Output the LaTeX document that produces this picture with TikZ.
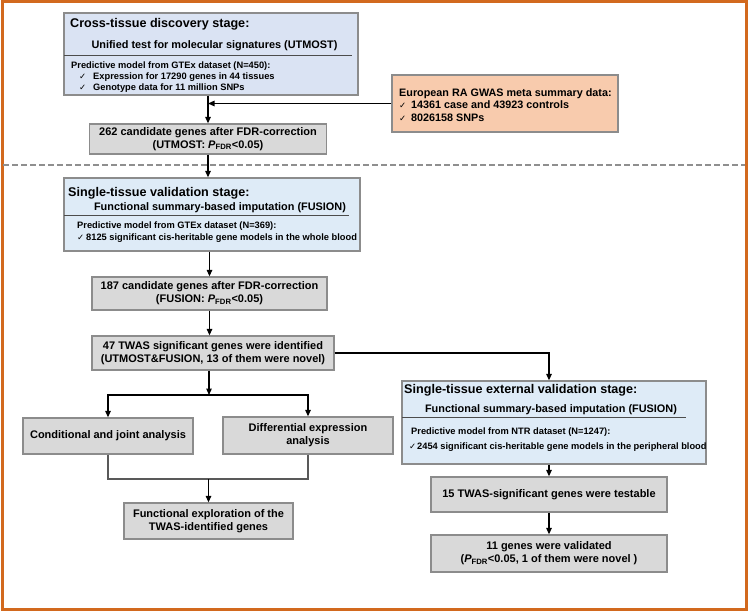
\documentclass[tikz,border=0pt]{standalone}
\usepackage{fontspec}
\setmainfont{Liberation Sans}
\newfontfamily\dvfont{DejaVu Sans}
\usetikzlibrary{arrows.meta}
\definecolor{frameor}{HTML}{D2691E}
\definecolor{bordgray}{HTML}{8C8C8C}
\definecolor{fillgray}{HTML}{D9D9D9}
\definecolor{fillblue}{HTML}{DEEBF7}
\definecolor{fillblueA}{HTML}{DAE3F3}
\definecolor{fillpeach}{HTML}{F8CBAD}
\definecolor{dashgray}{HTML}{8F8F8F}
\newcommand{\ck}{{\dvfont\mdseries\fontsize{8.5}{9}\selectfont ✓}}
\newcommand{\pfdr}{\textit{P}\textsubscript{FDR}}
\tikzset{
  box/.style={draw=bordgray, line width=1.3pt, inner sep=0pt, align=center,
    font=\bfseries\fontsize{11}{13}\selectfont},
  gbox/.style={box, fill=fillgray},
  arr/.style={-{Triangle[length=6.5pt,width=5.5pt]}, line width=1.2pt, black},
  ln/.style={line width=1.2pt, black!65},
  ttl/.style={anchor=west, inner sep=0pt, font=\bfseries\fontsize{12.6}{14}\selectfont},
  subt/.style={inner sep=0pt, font=\bfseries\fontsize{10.9}{13}\selectfont},
  smalltxt/.style={anchor=west, inner sep=0pt, font=\bfseries\fontsize{9.3}{11}\selectfont},
  sepline/.style={line width=0.8pt, black!70}
}
\begin{document}
\begin{tikzpicture}[x=1pt,y=-1pt]
\useasboundingbox (0,0) rectangle (749,611);
% frame
\draw[frameor, line width=2.5pt] (2.5,1.5) rectangle (746.5,609.5);
% dashed divider
\draw[dashgray, line width=1.6pt, dash pattern=on 6pt off 3pt] (3,165) -- (745,165);

% Box 1
\node[box, fill=fillblueA, minimum width=294, minimum height=82] (b1) at (211,54) {};
\node[ttl] (b1t) at (70,24) {Cross-tissue discovery stage:};
\node[subt] (b1s) at (214.5,46) {Unified test for molecular signatures (UTMOST)};
\draw[sepline] (64,55) -- (352,55);
\node[smalltxt] (b1p) at (71,66) {Predictive model from GTEx dataset (N=450):};
\node[smalltxt] (b1c1) at (79,77) {\makebox[14pt][l]{\ck}Expression for 17290 genes in 44 tissues};
\node[smalltxt] (b1c2) at (79,88) {\makebox[14pt][l]{\ck}Genotype data for 11 million SNPs};

% GWAS box
\node[box, fill=fillpeach, minimum width=226, minimum height=57] (ga) at (505,103.5) {};
\node[anchor=west, inner sep=0pt, align=left, font=\bfseries\fontsize{10.8}{12.2}\selectfont] (gat) at (399,105)
  {European RA GWAS meta summary data:\\\makebox[12pt][l]{\ck}14361 case and 43923 controls\\\makebox[12pt][l]{\ck}8026158 SNPs};

% 262
\node[gbox, minimum width=237, minimum height=30] (g262) at (208,139)
  {262 candidate genes after FDR-correction\\(UTMOST: \pfdr{}<0.05)};

% Box 2
\node[box, fill=fillblue, minimum width=296, minimum height=73] (b2) at (212,214.5) {};
\node[ttl] (b2t) at (68,193) {Single-tissue validation stage:};
\node[subt] (b2s) at (220,207.5) {Functional summary-based imputation (FUSION)};
\draw[sepline] (64,215) -- (349,215);
\node[smalltxt] (b2p) at (77,226) {Predictive model from GTEx dataset (N=369):};
\node[smalltxt] (b2c) at (77,238) {\makebox[9pt][l]{\ck}8125 significant cis-heritable gene models in the whole blood};

% 187, 47
\node[gbox, minimum width=235, minimum height=33] (g187) at (209.5,293.5)
  {187 candidate genes after FDR-correction\\(FUSION: \pfdr{}<0.05)};
\node[gbox, minimum width=242, minimum height=34] (g47) at (213,353)
  {47 TWAS significant genes were identified\\(UTMOST\&FUSION, 13 of them were novel)};

% Box 3
\node[box, fill=fillblue, minimum width=304, minimum height=83] (b3) at (554,422.5) {};
\node[ttl] (b3t) at (404,390) {Single-tissue external validation stage:};
\node[subt] (b3s) at (551,409.5) {Functional summary-based imputation (FUSION)};
\draw[sepline] (402,417) -- (686,417);
\node[smalltxt] (b3p) at (411,432) {Predictive model from NTR dataset (N=1247):};
\node[smalltxt] (b3c) at (409,447) {\makebox[8pt][l]{\ck}2454 significant cis-heritable gene models in the peripheral blood};

% lower left
\node[gbox, minimum width=170, minimum height=36] (cond) at (108,436) {Conditional and joint analysis};
\node[gbox, minimum width=170, minimum height=37] (diff) at (308,435.5) {Differential expression\\analysis};
\node[gbox, minimum width=169, minimum height=36] (func) at (208.5,521) {Functional exploration of the\\TWAS-identified genes};

% lower right
\node[gbox, minimum width=236, minimum height=35] (g15) at (549,494.5) {15 TWAS-significant genes were testable};
\node[gbox, minimum width=236, minimum height=37] (g11) at (549,553.5)
  {11 genes were validated\\(\pfdr{}<0.05, 1 of them were novel )};

% connectors
\draw[arr] (b1.south -| g262.north) -- (g262.north);
\draw[arr] (ga.west) -- (ga.west -| g262.north);
\draw[arr] (g262.south) -- (g262.south |- b2.north);
\draw[arr] (b2.south -| g187.north) -- (g187.north);
\draw[arr] (g187.south) -- (g187.south |- g47.north);
\coordinate (split) at (209,395);
\draw[arr] (g47.south -| split) -- (split);
\draw[arr] (split) -| (cond.north);
\draw[arr] (split) -| (diff.north);
\coordinate (join) at (208.5,479);
\draw[ln] (cond.south) |- (join);
\draw[ln] (diff.south) |- (join);
\draw[arr] (join) -- (func.north);
\draw[arr] (g47.east) -| (g15.north |- b3.north);
\draw[arr] (b3.south -| g15.north) -- (g15.north);
\draw[arr] (g15.south) -- (g11.north);
\end{tikzpicture}
\end{document}
